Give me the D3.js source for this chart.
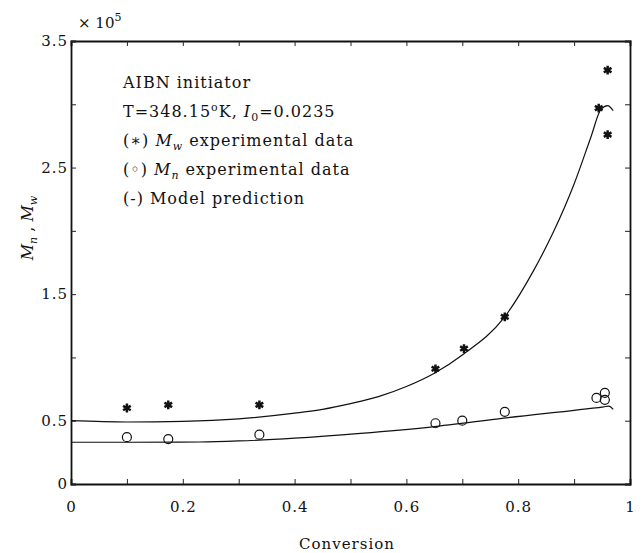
<!DOCTYPE html>
<html>
<head>
<meta charset="utf-8">
<script src="https://cdn.jsdelivr.net/npm/d3@7"></script>
<style>
  body { margin: 0; background: #fff; }
  text { font-family: "DejaVu Serif", serif; fill: #111; }
</style>
</head>
<body>
<div id="chart"></div>
<script>
// experimental data (conversion, value in 1e5)
var mwConv = [0.10, 0.174, 0.337, 0.652, 0.703, 0.776, 0.944, 0.96, 0.96];
var mwVals = [0.60, 0.625, 0.625, 0.91, 1.07, 1.32, 2.97, 3.27, 2.76];
var mnConv = [0.10, 0.174, 0.337, 0.652, 0.70, 0.776, 0.94, 0.955, 0.955];
var mnVals = [0.37, 0.355, 0.39, 0.48, 0.50, 0.57, 0.68, 0.72, 0.665];

// model prediction curves
var mwModelConv = [0, 0.1, 0.2, 0.3, 0.4, 0.45, 0.5, 0.55, 0.6, 0.65, 0.7, 0.774, 0.828, 0.864, 0.9, 0.93, 0.948, 0.96, 0.97];
var mwModelVals = [0.50, 0.49, 0.495, 0.515, 0.56, 0.59, 0.635, 0.69, 0.77, 0.875, 1.02, 1.31, 1.69, 2.0, 2.37, 2.74, 2.96, 2.99, 2.95];
var mnModelConv = [0, 0.1, 0.23, 0.3, 0.4, 0.518, 0.643, 0.774, 0.953, 0.962, 0.97];
var mnModelVals = [0.33, 0.33, 0.332, 0.34, 0.362, 0.40, 0.45, 0.52, 0.61, 0.615, 0.59];

var xTicks = [0, 0.1, 0.2, 0.3, 0.4, 0.5, 0.6, 0.7, 0.8, 0.9, 1];
var xLabels = [0, 0.2, 0.4, 0.6, 0.8, 1];
var yTicks = [0, 0.5, 1, 1.5, 2, 2.5, 3, 3.5];
var yLabels = [0, 0.5, 1.5, 2.5, 3.5];

var legendLines = ["AIBN initiator", "T", "Mw", "Mn", "(-) Model prediction"];

var W = 642, H = 553;
var margin = {left: 71, right: 12, top: 41, bottom: 69};

var svg = d3.select("#chart").append("svg")
  .attr("width", W)
  .attr("height", H);

var xScale = d3.scaleLinear().domain([0, 1]).range([margin.left, W - margin.right]);
var yScale = d3.scaleLinear().domain([0, 3.5]).range([H - margin.bottom, margin.top]);

var fmt = function(d) { return xLabels.indexOf(d) >= 0 ? String(d) : ""; };
var fmtY = function(d) { return yLabels.indexOf(d) >= 0 ? String(d) : ""; };

// bottom axis, ticks pointing inward
var gx = svg.append("g")
  .attr("class", "x-axis axis")
  .attr("transform", "translate(0," + yScale(0) + ")")
  .call(d3.axisBottom(xScale).tickValues(xTicks).tickSize(-5).tickFormat(fmt));
gx.selectAll("text").attr("y", 17).style("font-size", "15px").attr("letter-spacing", "1px");

svg.append("g")
  .attr("transform", "translate(0," + yScale(3.5) + ")")
  .call(d3.axisTop(xScale).tickValues(xTicks).tickSize(-5).tickFormat(""));

var gy = svg.append("g")
  .attr("class", "y-axis axis")
  .attr("transform", "translate(" + xScale(0) + ",0)")
  .call(d3.axisLeft(yScale).tickValues(yTicks).tickSize(-5).tickFormat(fmtY));
gy.selectAll("text").attr("x", -3).style("font-size", "15px").attr("letter-spacing", "1px");

svg.append("g")
  .attr("transform", "translate(" + xScale(1) + ",0)")
  .call(d3.axisRight(yScale).tickValues(yTicks).tickSize(-5).tickFormat(""));

svg.selectAll(".domain").attr("stroke-width", 1.8).attr("stroke", "#111");
svg.selectAll(".tick line").attr("stroke", "#222").attr("stroke-width", 1);

// axis titles
svg.append("text")
  .attr("x", 347)
  .attr("y", 549)
  .attr("text-anchor", "middle")
  .attr("letter-spacing", "1px")
  .style("font-size", "15px")
  .text("Conversion");

var yl = svg.append("text")
  .attr("transform", "translate(33,228) rotate(-90)")
  .attr("text-anchor", "middle")
  .style("font-size", "16px");
yl.append("tspan").attr("font-style", "italic").text("M");
yl.append("tspan").attr("dy", 4).style("font-size", "11px").attr("font-style", "italic").text("n");
yl.append("tspan").attr("dy", -4).text(" ,  ");
yl.append("tspan").attr("font-style", "italic").text("M");
yl.append("tspan").attr("dy", 4).style("font-size", "11px").attr("font-style", "italic").text("w");

var ex = svg.append("text")
  .attr("x", 78)
  .attr("y", 28)
  .style("font-size", "15px");
ex.append("tspan").text("\u00d7 10");
ex.append("tspan").attr("dy", -7).style("font-size", "11px").text("5");

// legend text block
var lg = svg.append("g").attr("transform", "translate(123,0)");
legendLines.forEach(function(key, i) {
  var t = lg.append("text")
    .attr("x", 0)
    .attr("y", 88 + i * 29)
    .attr("letter-spacing", "1px")
    .style("font-size", "16px");
  if (key === "T") {
    t.append("tspan").text("T=348.15");
    t.append("tspan").attr("dy", -6).style("font-size", "11px").text("o");
    t.append("tspan").attr("dy", 6).text("K, ");
    t.append("tspan").attr("font-style", "italic").text("I");
    t.append("tspan").attr("dy", 4).style("font-size", "11px").text("0");
    t.append("tspan").attr("dy", -4).text("=0.0235");
  } else if (key === "Mw" || key === "Mn") {
    t.append("tspan").text(key === "Mw" ? "(\u2217) " : "(\u25e6) ");
    t.append("tspan").attr("font-style", "italic").text("M");
    t.append("tspan").attr("dy", 4).style("font-size", "11px").attr("font-style", "italic").text(key === "Mw" ? "w" : "n");
    t.append("tspan").attr("dy", -4).text(" experimental data");
  } else {
    t.text(key);
  }
});

// model curves
var line = d3.line()
  .x(function(d) { return xScale(d[0]); })
  .y(function(d) { return yScale(d[1]); })
  .curve(d3.curveMonotoneX);

svg.append("path")
  .datum(d3.zip(mwModelConv, mwModelVals))
  .attr("fill", "none")
  .attr("stroke", "#111")
  .attr("stroke-width", 1.2)
  .attr("d", line);

svg.append("path")
  .datum(d3.zip(mnModelConv, mnModelVals))
  .attr("fill", "none")
  .attr("stroke", "#111")
  .attr("stroke-width", 1.2)
  .attr("d", line);

// Mw stars
svg.selectAll(".star")
  .data(d3.zip(mwConv, mwVals))
  .enter().append("path")
  .attr("class", "star")
  .attr("transform", function(d) { return "translate(" + xScale(d[0]) + "," + yScale(d[1]) + ")"; })
  .attr("d", d3.symbol(d3.symbolAsterisk, 55))
  .attr("fill", "none")
  .attr("stroke", "#111")
  .attr("stroke-width", 2.5);

// Mn circles
svg.selectAll(".circ")
  .data(d3.zip(mnConv, mnVals))
  .enter().append("circle")
  .attr("class", "circ")
  .attr("cx", function(d) { return xScale(d[0]); })
  .attr("cy", function(d) { return yScale(d[1]); })
  .attr("r", 4.5)
  .attr("fill", "none")
  .attr("stroke", "#111")
  .attr("stroke-width", 1.2);
</script>
</body>
</html>
